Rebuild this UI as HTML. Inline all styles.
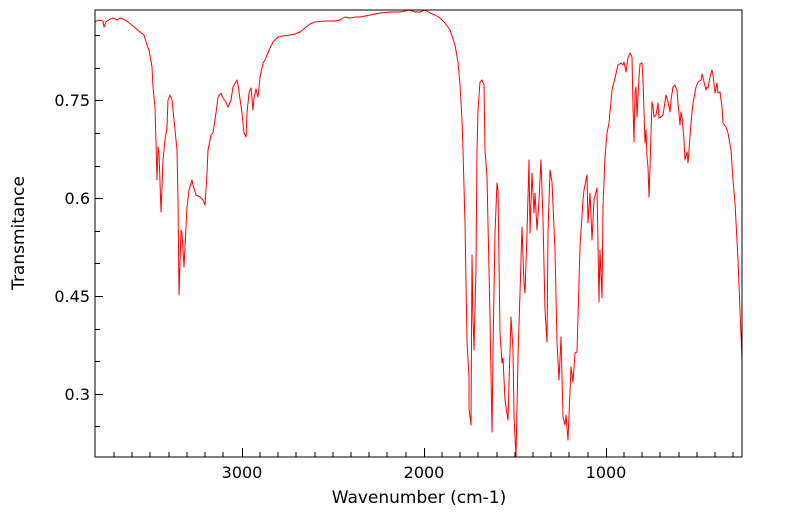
<!DOCTYPE html>
<html><head><meta charset="utf-8"><style>
html,body{margin:0;padding:0;background:#fff;}
svg{display:block;font-family:"DejaVu Sans","Liberation Sans",sans-serif;}
</style></head><body>
<svg width="799" height="516" viewBox="0 0 799 516" xmlns="http://www.w3.org/2000/svg">
<rect width="799" height="516" fill="#fff"/>
<polyline fill="none" stroke="#ff0000" stroke-width="1" stroke-linejoin="round" points="
95,22 98,20 103,21 104,27 106,22 110,19 113,18 117,20 120,18 123,19 128,22 133,26 140,32 144,35 147,45 149,50 152,67 153,87 155,107 157,180 158,147 159,153 161,212 163,160 165,140 167,127 168,100 170,95 172,100 173,110 175,130 177,150 178,200 179,295 181,230 182,233 184,267 187,207 189,190 192,180 193,185 196,195 200,197 203,200 205,205 207,173 208,150 211,135 213,133 216,113 218,97 221,93 223,98 226,102 228,107 231,100 233,87 237,80 238,85 242,113 244,133 246,137 247,113 249,93 251,88 253,110 254,98 256,89 258,97 260,77 263,63 265,60 267,55 270,48 273,42 278,37 283,36 290,35 295,34 300,32 305,28 310,24 315,22 325,21 335,21 340,20 345,17 350,18 355,17 360,17 365,16 370,15 380,13 390,12 400,12 410,10 415,12 420,12 425,10 430,13 435,15 440,18 445,23 450,30 455,45 458,62 460,85 462,120
463,150 465,223 467,342 469,377 469,408 471,425 472,255 473,317 474,350 476,267 477,150 478,110 480,82 482,80 484,85 485,150 487,177 490,317 492,432 493,350 495,233 497,183 498,190 500,333 502,363 503,358 505,400 508,420 510,350 511,317 513,350 514,417 516,457 518,357 520,293 522,227 524,283 525,293 527,233 529,160 530,233 532,173 534,213 535,193 537,230 539,200 541,160 543,220 545,310 547,342 548,233 550,170 552,182 555,250 557,342 559,380 561,337 563,417 565,425 566,415 568,440 571,367 573,382 575,353 577,352 580,247 583,200 584,190 587,175 588,223 590,193 592,240 594,200 597,188 599,302 600,250 602,298 603,207 605,157 607,133 609,123 612,90 615,78 618,65 621,63 623,65 624,62 626,72 628,58 630,53 632,57 633,107 634,142 635,93 636,87 637,117 639,77 640,64 642,63 643,80 645,143 646,130 647,157 648,167 649,197 650,167 651,133 652,102 653,107 654,117 656,115 658,103 659,118 661,117 663,115 666,95 668,102 670,112 671,100 673,87 675,85 677,90 678,103 680,125 681,112 682,117 684,140 685,160 687,152 688,163 689,150 691,123 693,103 696,87 698,82 701,80 702,74 704,82 706,90 707,87 708,88 710,77 712,70 713,75 715,93 717,83 718,93 720,92 722,107 723,123 726,127 728,133 731,150 733,180 735,203 738,260 742,360"/>
<rect x="95" y="10" width="647" height="447" fill="none" stroke="#000" stroke-width="1"/>
<g stroke="#000" stroke-width="1">
<line x1="95" y1="100.5" x2="103" y2="100.5"/><line x1="95" y1="198.5" x2="103" y2="198.5"/><line x1="95" y1="296.5" x2="103" y2="296.5"/><line x1="95" y1="394.5" x2="103" y2="394.5"/>
<line x1="95" y1="35.5" x2="100" y2="35.5"/><line x1="95" y1="68.5" x2="100" y2="68.5"/><line x1="95" y1="133.5" x2="100" y2="133.5"/><line x1="95" y1="166.5" x2="100" y2="166.5"/><line x1="95" y1="231.5" x2="100" y2="231.5"/><line x1="95" y1="263.5" x2="100" y2="263.5"/><line x1="95" y1="329.5" x2="100" y2="329.5"/><line x1="95" y1="361.5" x2="100" y2="361.5"/><line x1="95" y1="426.5" x2="100" y2="426.5"/>
<line x1="242.5" y1="457" x2="242.5" y2="448"/><line x1="424.5" y1="457" x2="424.5" y2="448"/><line x1="606.5" y1="457" x2="606.5" y2="448"/>
</g>
<g stroke="#000" stroke-width="1">
<line x1="114" y1="457" x2="114" y2="452"/><line x1="132" y1="457" x2="132" y2="452"/><line x1="150" y1="457" x2="150" y2="452"/><line x1="169" y1="457" x2="169" y2="452"/><line x1="187" y1="457" x2="187" y2="452"/><line x1="205" y1="457" x2="205" y2="452"/><line x1="223" y1="457" x2="223" y2="452"/>
<line x1="260" y1="457" x2="260" y2="452"/><line x1="278" y1="457" x2="278" y2="452"/><line x1="296" y1="457" x2="296" y2="452"/><line x1="315" y1="457" x2="315" y2="452"/><line x1="333" y1="457" x2="333" y2="452"/><line x1="351" y1="457" x2="351" y2="452"/><line x1="369" y1="457" x2="369" y2="452"/><line x1="387" y1="457" x2="387" y2="452"/><line x1="406" y1="457" x2="406" y2="452"/>
<line x1="442" y1="457" x2="442" y2="452"/><line x1="460" y1="457" x2="460" y2="452"/><line x1="478" y1="457" x2="478" y2="452"/><line x1="497" y1="457" x2="497" y2="452"/><line x1="515" y1="457" x2="515" y2="452"/><line x1="533" y1="457" x2="533" y2="452"/><line x1="551" y1="457" x2="551" y2="452"/><line x1="569" y1="457" x2="569" y2="452"/><line x1="588" y1="457" x2="588" y2="452"/>
<line x1="624" y1="457" x2="624" y2="452"/><line x1="642" y1="457" x2="642" y2="452"/><line x1="660" y1="457" x2="660" y2="452"/><line x1="679" y1="457" x2="679" y2="452"/><line x1="697" y1="457" x2="697" y2="452"/><line x1="715" y1="457" x2="715" y2="452"/><line x1="733" y1="457" x2="733" y2="452"/>
</g>
<g font-size="16" fill="#000">
<text x="90" y="106" text-anchor="end">0.75</text>
<text x="90" y="204" text-anchor="end">0.6</text>
<text x="90" y="302" text-anchor="end">0.45</text>
<text x="90" y="400" text-anchor="end">0.3</text>
<text x="242" y="478" text-anchor="middle">3000</text>
<text x="424" y="478" text-anchor="middle">2000</text>
<text x="606" y="478" text-anchor="middle">1000</text>
<text x="419" y="503" text-anchor="middle" font-size="17">Wavenumber (cm-1)</text>
<text transform="translate(24,233) rotate(-90)" text-anchor="middle" font-size="17">Transmitance</text>
</g>
</svg>
</body></html>
